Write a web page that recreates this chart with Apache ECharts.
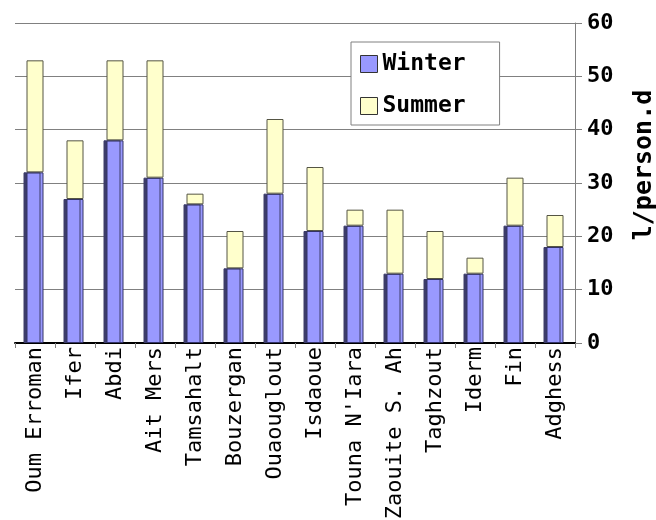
<!DOCTYPE html>
<html>
<head>
<meta charset="utf-8">
<script src="https://cdn.jsdelivr.net/npm/echarts@6/dist/echarts.min.js"></script>
<style>
  html, body { margin: 0; padding: 0; background: #ffffff; }
  #chart { width: 656px; height: 520px; }
</style>
</head>
<body>
<div id="chart"></div>
<script>
// Daily water use per person in each village, winter and summer (stacked)
const villages = ['Oum Erroman', 'Ifer', 'Abdi', 'Ait Mers', 'Tamsahalt', 'Bouzergan',
  'Ouaouglout', 'Isdaoue', "Touna N'Iara", 'Zaouite S. Ah', 'Taghzout', 'Iderm', 'Fin', 'Adghess'];
const winter = [32, 27, 38, 31, 26, 14, 28, 21, 22, 13, 12, 13, 22, 18];
const summer = [21, 11, 15, 22, 2, 7, 14, 12, 3, 12, 9, 3, 9, 6];
const yTicks = [0, 10, 20, 30, 40, 50, 60];

const MONO = "'DejaVu Sans Mono', monospace";

const chart = echarts.init(document.getElementById('chart'), null, { renderer: 'canvas' });

chart.setOption({
  animation: false,
  backgroundColor: '#ffffff',
  grid: { left: 15, right: 81, top: 23, bottom: 177, containLabel: false, outerBoundsMode: 'none' },
  legend: {
    orient: 'vertical',
    left: 351,
    top: 42,
    padding: [9, 34, 6, 9],
    itemGap: 16,
    itemWidth: 17,
    itemHeight: 17,
    backgroundColor: '#ffffff',
    borderColor: '#808080',
    borderWidth: 1,
    borderRadius: 0,
    icon: 'rect',
    itemStyle: { shadowColor: 'rgba(0,0,0,0)', shadowOffsetX: 0, borderColor: '#333333', borderWidth: 1 },
    textStyle: { fontFamily: MONO, fontWeight: 'bold', fontSize: 23, color: '#000000', lineHeight: 26 },
    data: ['Winter', 'Summer']
  },
  xAxis: {
    type: 'category',
    data: villages,
    boundaryGap: true,
    axisLine: { show: true, lineStyle: { color: '#000000', width: 2 } },
    axisTick: { show: true, inside: false, length: 5, alignWithLabel: false, lineStyle: { color: '#808080', width: 1 } },
    axisLabel: {
      rotate: 90,
      interval: 0,
      margin: 4,
      fontFamily: MONO,
      fontSize: 22,
      color: '#000000'
    },
    splitLine: { show: false }
  },
  yAxis: {
    type: 'value',
    position: 'right',
    min: yTicks[0],
    max: yTicks[yTicks.length - 1],
    interval: 10,
    name: 'l/person.d',
    nameLocation: 'middle',
    nameRotate: 90,
    nameGap: 57,
    nameTextStyle: { fontFamily: MONO, fontWeight: 'bold', fontSize: 25, color: '#000000', padding: [0, 0, 0, 36] },
    axisLine: { show: true, lineStyle: { color: '#808080', width: 1 } },
    axisTick: { show: true, inside: false, length: 7, lineStyle: { color: '#808080', width: 1 } },
    axisLabel: {
      margin: 12,
      fontFamily: MONO,
      fontWeight: 'bold',
      fontSize: 22,
      color: '#000000',
      formatter: v => (yTicks.indexOf(v) >= 0 ? String(v) : '')
    },
    splitLine: { show: true, lineStyle: { color: '#808080', width: 1 } }
  },
  series: [
    {
      name: 'Winter',
      type: 'bar',
      stack: 'use',
      data: winter,
      barWidth: 17,
      itemStyle: {
        color: '#9999ff',
        borderColor: '#333366',
        borderWidth: 1,
        shadowColor: '#3c3c6a',
        shadowBlur: 0,
        shadowOffsetX: -3,
        shadowOffsetY: 0
      }
    },
    {
      name: 'Summer',
      type: 'bar',
      stack: 'use',
      data: summer,
      barWidth: 17,
      itemStyle: {
        color: '#ffffcc',
        borderColor: '#555544',
        borderWidth: 1
      }
    }
  ]
});
</script>
</body>
</html>
